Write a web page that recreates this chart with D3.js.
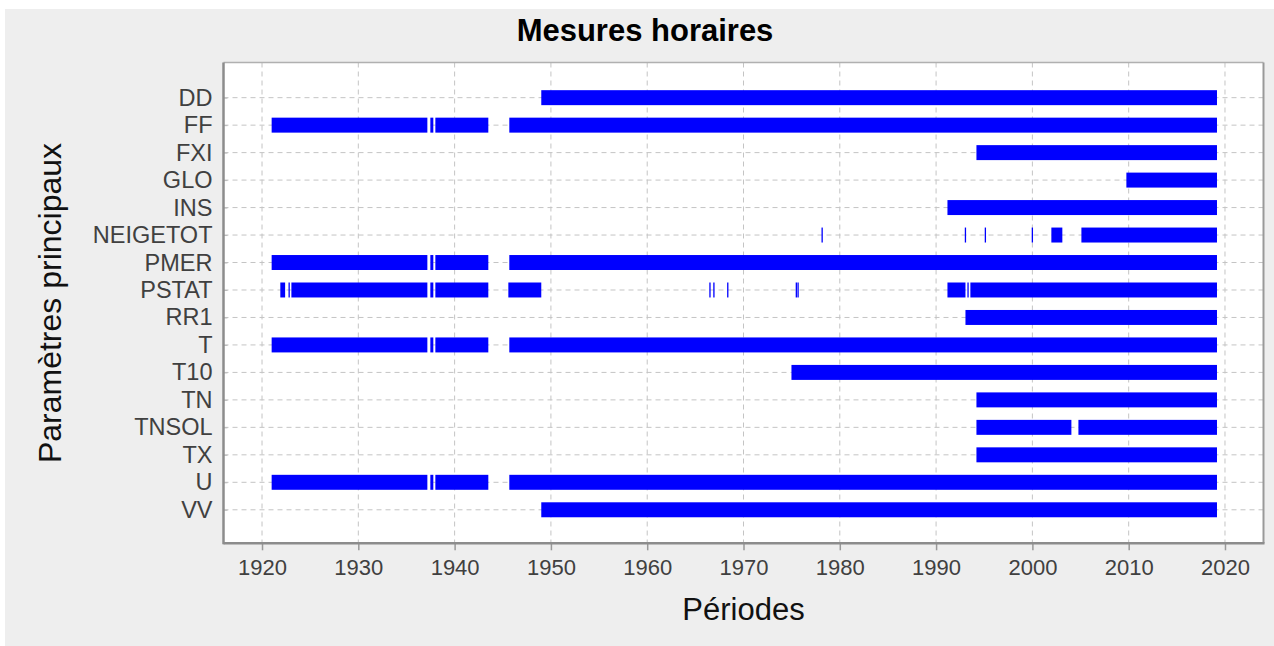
<!DOCTYPE html>
<head>
<meta charset="utf-8" />
<script src="https://cdn.jsdelivr.net/npm/d3@7/dist/d3.min.js"></script>
<style>
body {
  margin: 0;
  background: white;
  font-family: "Liberation Sans", Arial, Helvetica, sans-serif;
}
svg {
  display: block;
}
.grid line {
  stroke: #c4c4c4;
  stroke-width: 1px;
  stroke-dasharray: 5,4;
}
.tick text {
  fill: #404040;
}
</style>
</head>
<body>
<script>
// parameters, top to bottom
var params = ["DD", "FF", "FXI", "GLO", "INS", "NEIGETOT", "PMER", "PSTAT",
  "RR1", "T", "T10", "TN", "TNSOL", "TX", "U", "VV"];

// measurement periods per parameter, [start, end] in decimal years
var pDD = [[1949.0, 2019.17]];
var pFF = [[1921.0, 1937.17], [1937.48, 1937.79], [1938.0, 1943.5], [1945.68, 2019.17]];
var pFXI = [[1994.19, 2019.17]];
var pGLO = [[2009.76, 2019.17]];
var pINS = [[1991.18, 2019.17]];
var pNEIGETOT = [[1978.1, 1978.2], [1992.98, 1993.08], [1995.05, 1995.15],
  [1999.93, 2000.03], [2001.97, 2003.11], [2005.09, 2019.17]];
var pPMER = [[1921.0, 1937.17], [1937.48, 1937.79], [1938.0, 1943.5], [1945.68, 2019.17]];
var pPSTAT = [[1921.9, 1922.4], [1922.75, 1922.87], [1923.05, 1937.17], [1937.48, 1937.79],
  [1938.0, 1943.5], [1945.58, 1949.0], [1966.45, 1966.55], [1966.86, 1966.96],
  [1968.3, 1968.4], [1975.42, 1975.5], [1975.6, 1975.68], [1991.18, 1993.05],
  [1993.25, 1993.36], [1993.56, 2019.17]];
var pRR1 = [[1993.05, 2019.17]];
var pT = [[1921.0, 1937.17], [1937.48, 1937.79], [1938.0, 1943.5], [1945.68, 2019.17]];
var pT10 = [[1974.98, 2019.17]];
var pTN = [[1994.19, 2019.17]];
var pTNSOL = [[1994.19, 2004.05], [2004.78, 2019.17]];
var pTX = [[1994.19, 2019.17]];
var pU = [[1921.0, 1937.17], [1937.48, 1937.79], [1938.0, 1943.5], [1945.68, 2019.17]];
var pVV = [[1949.0, 2019.17]];

var xTicks = [1920, 1930, 1940, 1950, 1960, 1970, 1980, 1990, 2000, 2010, 2020];

var periods = [pDD, pFF, pFXI, pGLO, pINS, pNEIGETOT, pPMER, pPSTAT,
  pRR1, pT, pT10, pTN, pTNSOL, pTX, pU, pVV];

var width = 1274, height = 646;
var plotL = 223.5, plotR = 1263.5, plotT = 62.5, plotB = 543.3;

var svg = d3.select("body").append("svg")
  .attr("width", width)
  .attr("height", height);

// grey figure background
svg.append("rect")
  .attr("x", 5).attr("y", 9)
  .attr("width", width - 5).attr("height", height - 9)
  .attr("fill", "#eeeeee");

svg.append("rect")
  .attr("x", plotL).attr("y", plotT)
  .attr("width", plotR - plotL).attr("height", plotB - plotT)
  .attr("fill", "white");

var x = d3.scaleLinear().domain([1916, 2024]).range([plotL, plotR]);
var y = d3.scaleLinear().domain([-1.28, 16.22]).range([plotT, plotB]);
var step = y(1) - y(0);
var barH = 0.545 * step;

// grid
svg.append("g").attr("class", "grid")
  .selectAll("line").data(xTicks).enter().append("line")
  .attr("x1", function(d) { return x(d); })
  .attr("x2", function(d) { return x(d); })
  .attr("y1", plotT).attr("y2", plotB);

svg.append("g").attr("class", "grid")
  .selectAll("line").data(params).enter().append("line")
  .attr("x1", plotL).attr("x2", plotR)
  .attr("y1", function(d, i) { return y(i); })
  .attr("y2", function(d, i) { return y(i); });

// bars
var rows = [];
params.forEach(function(p, i) {
  periods[i].forEach(function(s) {
    rows.push({param: p, idx: i, start: s[0], end: s[1]});
  });
});

svg.append("g").selectAll("rect").data(rows).enter().append("rect")
  .attr("x", function(d) { return x(d.start); })
  .attr("y", function(d) { return y(d.idx) - barH / 2; })
  .attr("width", function(d) { return Math.max(1.3, x(d.end) - x(d.start)); })
  .attr("height", barH)
  .attr("fill", "#0000ff");

// axes
var xAxis = svg.append("g")
  .attr("transform", "translate(0," + plotB + ")")
  .call(d3.axisBottom(x).tickValues(xTicks).tickFormat(d3.format("d"))
    .tickSize(7).tickPadding(9));
xAxis.select(".domain").remove();
xAxis.selectAll(".tick line").attr("stroke", "#999").attr("stroke-width", 1.5);
xAxis.selectAll(".tick text")
  .style("font-size", "22px")
  .style("font-family", "'Liberation Sans', Arial, sans-serif");

var yAxis = svg.append("g")
  .attr("transform", "translate(" + plotL + ",0)")
  .call(d3.axisLeft(y).tickValues(d3.range(params.length))
    .tickFormat(function(i) { return params[i]; })
    .tickSize(-4).tickPadding(11));
yAxis.select(".domain").remove();
yAxis.selectAll(".tick line").attr("stroke", "#bbb");
yAxis.selectAll(".tick text")
  .style("font-size", "23.5px")
  .style("font-family", "'Liberation Sans', Arial, sans-serif");

// frame
svg.append("line").attr("x1", plotL).attr("x2", plotR).attr("y1", plotT).attr("y2", plotT)
  .attr("stroke", "#b0b0b0").attr("stroke-width", 1.5);
svg.append("line").attr("x1", plotR).attr("x2", plotR).attr("y1", plotT).attr("y2", plotB)
  .attr("stroke", "#999").attr("stroke-width", 2);
svg.append("line").attr("x1", plotL).attr("x2", plotL).attr("y1", plotT).attr("y2", plotB + 1)
  .attr("stroke", "#8c8c8c").attr("stroke-width", 2.5);
svg.append("line").attr("x1", plotL).attr("x2", plotR + 1).attr("y1", plotB).attr("y2", plotB)
  .attr("stroke", "#8c8c8c").attr("stroke-width", 2.5);

// titles
svg.append("text")
  .attr("x", 645).attr("y", 41)
  .attr("text-anchor", "middle")
  .style("font-size", "31px").style("font-weight", "bold")
  .attr("fill", "#000")
  .text("Mesures horaires");

svg.append("text")
  .attr("x", (plotL + plotR) / 2).attr("y", 620)
  .attr("text-anchor", "middle")
  .style("font-size", "31px")
  .attr("fill", "#111")
  .text("Périodes");

svg.append("text")
  .attr("transform", "translate(61,303) rotate(-90)")
  .attr("text-anchor", "middle")
  .style("font-size", "32px")
  .attr("fill", "#111")
  .text("Paramètres principaux");
</script>
</body>
